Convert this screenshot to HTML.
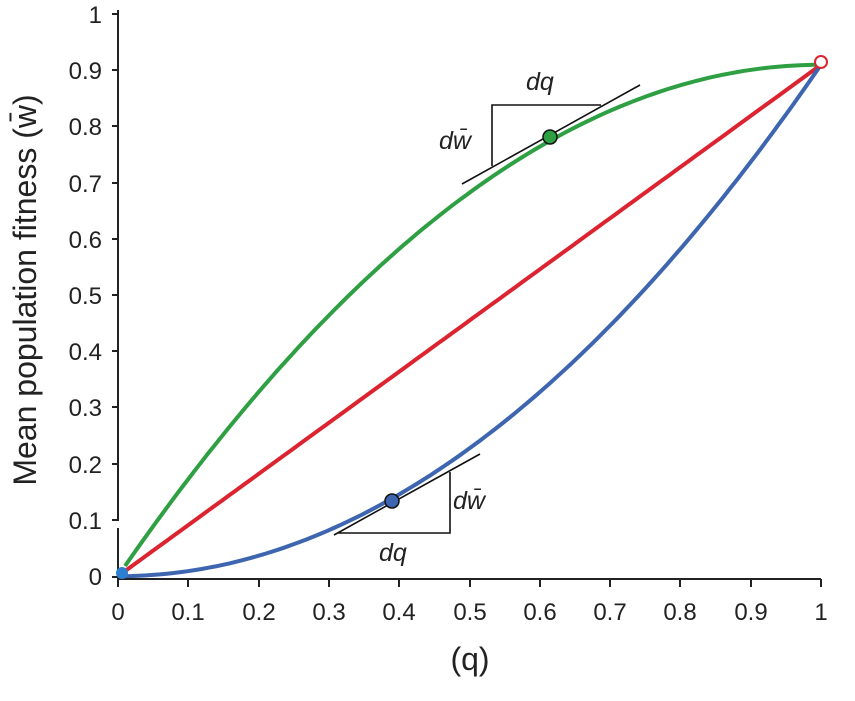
<!DOCTYPE html>
<html><head><style>body{margin:0;background:#fff}svg{display:block}text{font-family:"Liberation Sans",sans-serif}</style></head><body>
<svg width="855" height="701" viewBox="0 0 855 701" xmlns="http://www.w3.org/2000/svg">
<g stroke="#222" stroke-width="2" fill="none">
<path d="M118,10 V520 H112"/>
<path d="M118,528 V579 H821"/>
<path d="M118,14 H112 M118,70 H112 M118,126 H112 M118,183 H112 M118,239 H112 M118,295 H112 M118,351 H112 M118,407 H112 M118,464 H112 M118,577 H112"/>
<path d="M118,579 V587 M188,579 V587 M259,579 V587 M329,579 V587 M399,579 V587 M470,579 V587 M540,579 V587 M610,579 V587 M680,579 V587 M751,579 V587 M821,579 V587"/>
</g>
<g font-size="24" fill="#222" text-anchor="end">
<text x="102" y="23">1</text><text x="102" y="79">0.9</text><text x="102" y="135">0.8</text><text x="102" y="192">0.7</text><text x="102" y="248">0.6</text><text x="102" y="304">0.5</text><text x="102" y="360">0.4</text><text x="102" y="416">0.3</text><text x="102" y="473">0.2</text><text x="102" y="529">0.1</text><text x="102" y="585">0</text>
</g>
<g font-size="24" fill="#222" text-anchor="middle">
<text x="118" y="620">0</text><text x="188" y="620">0.1</text><text x="259" y="620">0.2</text><text x="329" y="620">0.3</text><text x="399" y="620">0.4</text><text x="470" y="620">0.5</text><text x="540" y="620">0.6</text><text x="610" y="620">0.7</text><text x="680" y="620">0.8</text><text x="751" y="620">0.9</text><text x="821" y="620">1</text>
</g>
<text x="470" y="670" font-size="32" text-anchor="middle" fill="#222">(q)</text>
<text transform="translate(36,290) rotate(-90)" font-size="32" text-anchor="middle" fill="#222">Mean population fitness (w̄)</text>
<path id="g" fill="none" stroke="#2ea043" stroke-width="4" d=""/>
<path id="r" fill="none" stroke="#dc2430" stroke-width="4" d=""/>
<path id="b" fill="none" stroke="#3e65b0" stroke-width="4" d=""/>
<g stroke="#111" stroke-width="1.6" fill="none">
<path d="M462,184 L640,85 M492,166 V105 H601"/>
<path d="M334,535 L480,454 M338,533 H450 V472"/>
</g>
<circle cx="550" cy="137" r="7" fill="#2ea043" stroke="#111" stroke-width="1.5"/>
<circle cx="392" cy="501" r="7" fill="#3e65b0" stroke="#111" stroke-width="1.5"/>
<circle cx="821" cy="62" r="6" fill="#fff" stroke="#dc2430" stroke-width="2"/>
<circle cx="122" cy="573" r="6" fill="#2f7fd0"/>
<g font-size="25" font-style="italic" fill="#222">
<text x="526" y="90">dq</text><text x="439" y="149">dw̄</text>
<text x="453" y="509">dw̄</text><text x="379" y="561">dq</text>
</g>
<script>
function X(q){return 118+q*703}function Y(w){return 520-(w-0.1)*562}
function mk(f){var d="";for(var i=0;i<=100;i++){var q=0.01+i*0.0099;d+=(i?"L":"M")+X(q).toFixed(1)+","+Y(f(q)).toFixed(1)}return d}
document.getElementById("g").setAttribute("d",mk(function(q){return 0.91*(2*q-q*q)}));
document.getElementById("r").setAttribute("d",mk(function(q){return 0.91*q}));
document.getElementById("b").setAttribute("d",mk(function(q){return 0.91*q*q}));
</script>
</svg>
</body></html>
